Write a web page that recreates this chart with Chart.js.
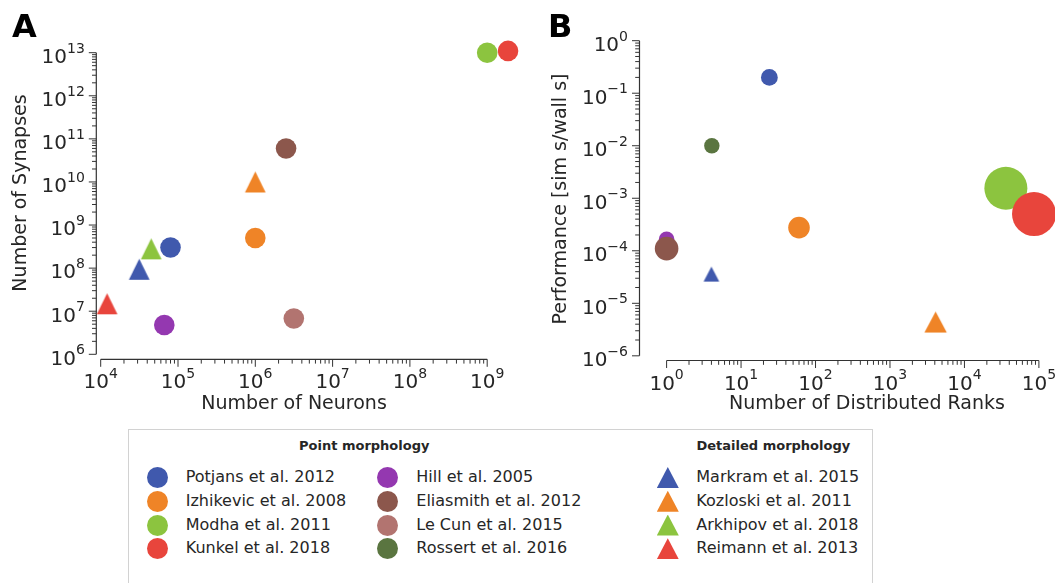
<!DOCTYPE html>
<html><head><meta charset="utf-8">
<script src="https://cdn.jsdelivr.net/npm/chart.js@4.4.0/dist/chart.umd.min.js"></script>
<style>
html,body{margin:0;padding:0;background:#fff;width:1055px;height:583px;overflow:hidden;font-family:"DejaVu Sans",sans-serif;}
#wrapA{position:absolute;left:0;top:0;width:530px;height:420px;}
#wrapB{position:absolute;left:530px;top:0;width:525px;height:420px;}
#legend{position:absolute;left:128px;top:429px;width:745px;height:175px;border:1.5px solid #d2d2d2;box-sizing:border-box;background:#fff;}
.lt{position:absolute;white-space:nowrap;font-size:16px;line-height:16px;color:#262626;}
.lh{position:absolute;white-space:nowrap;font-size:13px;line-height:13px;font-weight:bold;color:#262626;}
.mk{position:absolute;}
</style></head>
<body>
<div id="wrapA"><canvas id="cA" width="530" height="420"></canvas></div>
<div id="wrapB"><canvas id="cB" width="525" height="420"></canvas></div>
<div id="legend"></div>
<script>
// ---------------- data ----------------
const studies = ['Potjans et al. 2012','Izhikevic et al. 2008','Modha et al. 2011','Kunkel et al. 2018',
  'Hill et al. 2005','Eliasmith et al. 2012','Le Cun et al. 2015','Rossert et al. 2016',
  'Markram et al. 2015','Kozloski et al. 2011','Arkhipov et al. 2018','Reimann et al. 2013'];
const morphology = ['point','point','point','point','point','point','point','point',
  'detailed','detailed','detailed','detailed'];
// Panel A
const neurons  = [8e4, 1e6, 1e9, 1.86e9, 6.65e4, 2.5e6, 3.15e6, null, 3.15e4, 1e6, 4.5e4, 1.21e4];
const synapses = [3.0e8, 5e8, 1e13, 1.1e13, 4.8e6, 6e10, 6.8e6, null, 9.4e7, 1e10, 2.8e8, 1.49e7];
// Panel B
const ranks       = [24, 60, 3.6e4, 8.6e4, 1, 1, null, 4.05, 4.0, 4100, null, null];
const performance = [0.2, 2.76e-4, 1.55e-3, 5.0e-4, 1.66e-4, 1.1e-4, null, 0.01, 3.6e-5, 4.4e-6, null, null];
// ticks
const xTicksA = [1e4,1e5,1e6,1e7,1e8,1e9];
const xTickLabelsA = ['4','5','6','7','8','9'];
const yTicksA = [1e6,1e7,1e8,1e9,1e10,1e11,1e12,1e13];
const yTickLabelsA = ['6','7','8','9','10','11','12','13'];
const xTicksB = [1,10,100,1e3,1e4,1e5];
const xTickLabelsB = ['0','1','2','3','4','5'];
const yTicksB = [1e-6,1e-5,1e-4,1e-3,1e-2,1e-1,1];
const yTickLabelsB = ['\u22126','\u22125','\u22124','\u22123','\u22122','\u22121','0'];

// ---------------- styles ----------------
const colors = ['#4059ad','#ef8427','#8cc43f','#e8453c','#9438b0','#8c574c','#b27470','#5a7540',
  '#4059ad','#ef8427','#8cc43f','#e8453c'];
const radiusA = 10.3;
const triA = [20.7, 21];
const sizeB = [8.4, 10.8, 21.5, 22, 7.8, 11.8, 0, 7.7, [15.7,15], [22.4,21], 0, 0];
const TXT = '#262626', SPINE = '#333333';

// pixel layout: [firstTickPixel, lastTickPixel] inside each canvas
const layoutA = {w: 530, h: 420, x: [100.7, 487.2], y: [354.3, 52.7]};
const layoutB = {w: 525, h: 420, x: [136.6, 508.9], y: [356.0, 40.7]};

function logRange(v0, p0, v1, p1, aLow, aHigh) {
  const L0 = Math.log10(v0), L1 = Math.log10(v1);
  const k = (L1 - L0) / (p1 - p0);
  return [Math.pow(10, L0 + (aLow - p0) * k), Math.pow(10, L0 + (aHigh - p0) * k)];
}

function makeTriangle(color, w, h) {
  const c = document.createElement('canvas');
  const W = Math.ceil(w) + 2, H = Math.ceil(h) + 2;
  c.width = W; c.height = H;
  const g = c.getContext('2d');
  const ox = (W - w) / 2, oy = (H - h) / 2;
  g.fillStyle = color;
  g.beginPath();
  g.moveTo(ox + w / 2, oy);
  g.lineTo(ox + w, oy + h);
  g.lineTo(ox, oy + h);
  g.closePath();
  g.fill();
  return c;
}

function drawPow(ctx, exp, x, y, align) {
  const base = '20px "DejaVu Sans"', sup = '14px "DejaVu Sans"';
  ctx.font = base; const wb = ctx.measureText('10').width;
  ctx.font = sup; const ws = ctx.measureText(exp).width;
  const left = align === 'right' ? x - wb - ws : x - (wb + ws) / 2;
  ctx.textAlign = 'left'; ctx.textBaseline = 'alphabetic';
  ctx.font = base; ctx.fillText('10', left, y);
  ctx.font = sup; ctx.fillText(exp, left + wb, y - 10.4);
}

const spinePlugin = {
  id: 'spines',
  beforeDatasetsDraw(chart, args, o) {
    const ctx = chart.ctx, xs = chart.scales.x, ys = chart.scales.y;
    const px = v => xs.getPixelForValue(v), py = v => ys.getPixelForValue(v);
    const xT = o.xTicks, yT = o.yTicks;
    const x0 = px(xT[0]), x1 = px(xT[xT.length - 1]);
    const yb = py(yT[0]), yt = py(yT[yT.length - 1]);
    const spineX = x0 - o.yGap;
    const spineY = yb + o.xGap;
    ctx.save();
    ctx.strokeStyle = SPINE; ctx.lineWidth = 1.2;
    ctx.beginPath();
    ctx.moveTo(spineX, yt); ctx.lineTo(spineX, yb);
    ctx.moveTo(x0, spineY); ctx.lineTo(x1, spineY);
    ctx.stroke();
    ctx.lineWidth = 1;
    ctx.beginPath();
    xT.forEach((v, i) => {
      const X = px(v);
      ctx.moveTo(X, spineY); ctx.lineTo(X, spineY + 7.5);
      if (i < xT.length - 1) for (let k = 2; k <= 9; k++) {
        const Xm = px(v * k); ctx.moveTo(Xm, spineY); ctx.lineTo(Xm, spineY + 4.3);
      }
    });
    yT.forEach((v, i) => {
      const Y = py(v);
      ctx.moveTo(spineX, Y); ctx.lineTo(spineX - 7.5, Y);
      if (i < yT.length - 1) for (let k = 2; k <= 9; k++) {
        const Ym = py(v * k); ctx.moveTo(spineX, Ym); ctx.lineTo(spineX - 4.3, Ym);
      }
    });
    ctx.stroke();
    ctx.fillStyle = TXT;
    xT.forEach((v, i) => drawPow(ctx, o.xLabels[i], px(v), spineY + 29, 'center'));
    yT.forEach((v, i) => drawPow(ctx, o.yLabels[i], spineX - 11.5, py(v) + 10.3, 'right'));
    // axis titles
    ctx.font = '19px "DejaVu Sans"';
    ctx.textAlign = 'center'; ctx.textBaseline = 'alphabetic';
    ctx.fillText(o.xTitle, o.xTitlePos[0], o.xTitlePos[1]);
    ctx.save();
    ctx.translate(o.yTitlePos[0], o.yTitlePos[1]);
    ctx.rotate(-Math.PI / 2);
    ctx.fillText(o.yTitle, 0, 0);
    ctx.restore();
    // panel letter
    ctx.font = 'bold 32px "DejaVu Sans"';
    ctx.textAlign = 'left';
    ctx.fillStyle = '#000';
    ctx.fillText(o.letter, o.letterPos[0], o.letterPos[1]);
    ctx.restore();
  }
};

function buildChart(id, xv, yv, sizeFn, ticks, lay, spineOpts) {
  const idx = studies.map((s, i) => i).filter(i => xv[i] != null && yv[i] != null);
  const data = idx.map(i => ({x: xv[i], y: yv[i]}));
  const styles = idx.map(i => sizeFn(i).style);
  const radii = idx.map(i => sizeFn(i).r);
  const cols = idx.map(i => colors[i]);
  const xr = logRange(ticks.x[0], lay.x[0], ticks.x[ticks.x.length - 1], lay.x[1], 0, lay.w);
  const yr = logRange(ticks.y[0], lay.y[0], ticks.y[ticks.y.length - 1], lay.y[1], lay.h, 0);
  return new Chart(document.getElementById(id), {
    type: 'scatter',
    data: { datasets: [{
      data,
      pointStyle: styles,
      pointRadius: radii,
      pointHoverRadius: radii,
      pointBackgroundColor: cols,
      pointBorderWidth: 0,
      pointHoverBorderWidth: 0,
      clip: false
    }]},
    options: {
      responsive: false, animation: false, devicePixelRatio: 1,
      events: [],
      layout: { padding: 0, autoPadding: false },
      scales: {
        x: { type: 'logarithmic', min: xr[0], max: xr[1], display: false },
        y: { type: 'logarithmic', min: yr[0], max: yr[1], display: false }
      },
      plugins: { legend: {display: false}, tooltip: {enabled: false}, spines: spineOpts }
    },
    plugins: [spinePlugin]
  });
}

// Panel A
buildChart('cA', neurons, synapses, i => morphology[i] === 'detailed'
    ? {style: makeTriangle(colors[i], triA[0], triA[1]), r: radiusA}
    : {style: 'circle', r: radiusA},
  {x: xTicksA, y: yTicksA}, layoutA,
  {xTicks: xTicksA, yTicks: yTicksA, xLabels: xTickLabelsA, yLabels: yTickLabelsA,
   yGap: 4.4, xGap: 5, xTitle: 'Number of Neurons', yTitle: 'Number of Synapses',
   xTitlePos: [294, 409.3], yTitlePos: [26, 193], letter: 'A', letterPos: [12, 36.7]});

// Panel B
buildChart('cB', ranks, performance, i => morphology[i] === 'detailed'
    ? {style: makeTriangle(colors[i], sizeB[i][0], sizeB[i][1]), r: 10}
    : {style: 'circle', r: sizeB[i]},
  {x: xTicksB, y: yTicksB}, layoutB,
  {xTicks: xTicksB, yTicks: yTicksB, xLabels: xTickLabelsB, yLabels: yTickLabelsB,
   yGap: 27.1, xGap: 4.7, xTitle: 'Number of Distributed Ranks', yTitle: 'Performance [sim s/wall s]',
   xTitlePos: [337, 409.3], yTitlePos: [36.2, 199], letter: 'B', letterPos: [18, 36.7]});

// ---------------- legend (HTML) ----------------
const legend = document.getElementById('legend');
const L0 = 128, T0 = 429; // legend box origin in page coordinates
const rowsY = [478, 501.7, 525.5, 549.2];
const colMarkerX = [158, 388, 668.3];
const colTextX = [186.2, 416.8, 696.8];
function addEl(cls, html, left, top, css) {
  const d = document.createElement('div');
  d.className = cls; d.innerHTML = html;
  d.style.left = (left - L0 - 1.5) + 'px'; d.style.top = (top - T0 - 1.5) + 'px';
  if (css) Object.assign(d.style, css);
  legend.appendChild(d);
}
addEl('lh', 'Point morphology', 299.5, 450 - 11.0);
addEl('lh', 'Detailed morphology', 697, 450 - 11.0);
const pointIdx = studies.map((s, i) => i).filter(i => morphology[i] === 'point');
const detIdx = studies.map((s, i) => i).filter(i => morphology[i] === 'detailed');
pointIdx.forEach((i, k) => {
  const col = Math.floor(k / 4), row = k % 4;
  const cy = rowsY[row];
  addEl('mk', '', colMarkerX[col] - 10.5, cy - 10.5,
    {width: '21px', height: '21px', borderRadius: '50%', background: colors[i]});
  addEl('lt', studies[i], colTextX[col], cy + 5.2 - 13.54);
});
detIdx.forEach((i, row) => {
  const cy = rowsY[row];
  addEl('mk', '', colMarkerX[2] - 11, cy - 10.5,
    {width: '22px', height: '21px', background: colors[i], clipPath: 'polygon(50% 0, 100% 100%, 0 100%)'});
  addEl('lt', studies[i], colTextX[2], cy + 5.2 - 13.54);
});
</script>
</body></html>
